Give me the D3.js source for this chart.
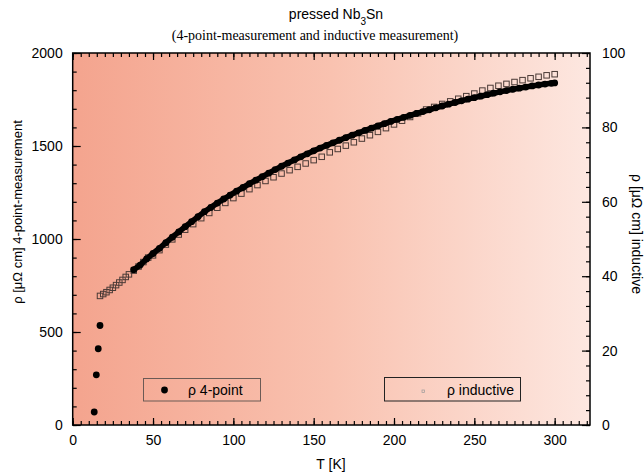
<!DOCTYPE html>
<html>
<head>
<meta charset="utf-8">
<script src="https://cdn.jsdelivr.net/npm/d3@7"></script>
<style>
  body { margin: 0; background: #fff; }
  svg { display: block; font-family: "Liberation Sans", Arial, sans-serif; }
</style>
</head>
<body>
<div id="chart"></div>
<script>
// 4-point measurement, left axis [µΩ cm]
const dropT   = [13.4, 14.7, 15.9, 17.0];
const dropRho = [70, 270, 410, 535];

const fourT = [38, 42, 46, 50, 54, 58, 62, 66, 70, 74, 78, 82, 86, 90, 94, 98, 102, 106, 110, 114,
  118, 122, 126, 130, 134, 138, 142, 146, 150, 154, 158, 162, 166, 170, 174, 178, 182, 186, 190, 194,
  198, 202, 206, 210, 214, 218, 222, 226, 230, 234, 238, 242, 246, 250, 254, 258, 262, 266, 270, 274,
  278, 282, 286, 290, 294, 298, 300];
const fourRho = [835, 860, 893, 922, 950, 980, 1010, 1038, 1066, 1093, 1120, 1147, 1170, 1193, 1215, 1236, 1257, 1277, 1297, 1316,
  1335, 1354, 1373, 1391, 1408, 1425, 1442, 1458, 1474, 1489, 1503, 1517, 1531, 1545, 1558, 1571, 1584, 1596, 1608, 1620,
  1632, 1643, 1654, 1665, 1675, 1685, 1695, 1705, 1715, 1725, 1734, 1743, 1752, 1760, 1768, 1776, 1784, 1791, 1798, 1805,
  1811, 1817, 1823, 1828, 1833, 1837, 1839];

// inductive measurement, right axis [µΩ cm]
const indT = [17, 19, 21, 23, 25, 27, 29, 31, 33, 35, 38, 41, 44, 47, 50, 54, 58, 62, 66, 70,
  75, 80, 85, 90, 95, 100, 105, 110, 115, 120, 125, 130, 135, 140, 145, 150, 155, 160, 165, 170,
  175, 180, 185, 190, 195, 200, 205, 210, 215, 220, 225, 230, 235, 240, 245, 250, 255, 260, 265, 270,
  275, 280, 285, 290, 295, 300];
const indRho = [34.7, 35.2, 35.7, 36.3, 36.9, 37.6, 38.3, 39.0, 39.8, 40.5, 41.5, 42.6, 43.8, 45.0, 45.6, 47.0, 48.5, 49.9, 51.2, 52.5,
  54.0, 55.6, 57.0, 58.4, 59.7, 61.0, 62.2, 63.4, 64.5, 65.6, 66.6, 67.6, 68.5, 69.4, 70.3, 71.2, 72.1, 73.3, 74.2, 75.1,
  76.0, 77.0, 77.9, 78.8, 79.8, 80.8, 81.8, 82.8, 83.8, 84.8, 85.5, 86.3, 87.0, 87.7, 88.4, 89.1, 89.9, 90.6, 91.2, 91.7,
  92.2, 92.7, 93.2, 93.6, 94.0, 94.3];

const xTicks = [0, 50, 100, 150, 200, 250, 300];
const yLeftTicks = [0, 500, 1000, 1500, 2000];
const yRightTicks = [0, 20, 40, 60, 80, 100];

const width = 644, height = 476;
const plot = { left: 72.7, right: 590, top: 53, bottom: 425 };

const svg = d3.select("#chart").append("svg")
    .attr("width", width)
    .attr("height", height);

const x = d3.scaleLinear().domain([0, 322]).range([plot.left, plot.right]);
const yL = d3.scaleLinear().domain([0, 2000]).range([plot.bottom, plot.top]);
const yR = d3.scaleLinear().domain([0, 100]).range([plot.bottom, plot.top]);

// background gradient
const grad = svg.append("defs").append("linearGradient")
    .attr("id", "bg").attr("x1", 0).attr("x2", 1).attr("y1", 0).attr("y2", 0);
grad.append("stop").attr("offset", "0%").attr("stop-color", "#f4a48e");
grad.append("stop").attr("offset", "50%").attr("stop-color", "#f9c2b0");
grad.append("stop").attr("offset", "100%").attr("stop-color", "#fde7e0");

svg.append("rect")
    .attr("x", plot.left).attr("y", plot.top)
    .attr("width", plot.right - plot.left).attr("height", plot.bottom - plot.top)
    .attr("fill", "url(#bg)");

// ticks: major and minor on all four sides, pointing inwards
function styleAxis(g) {
    g.select(".domain").remove();
    g.selectAll(".tick line").attr("stroke", "#000").attr("stroke-width", 1.2);
    g.selectAll("text").style("font-size", "14px").attr("fill", "#000")
        .style("font-family", "'Liberation Sans', Arial, sans-serif");
}

const minorX = d3.range(0, 321, 5);
const minorYL = d3.range(0, 2001, 100);
const minorYR = d3.range(0, 101, 4);
const fmt = d3.format("d");

svg.append("g").attr("transform", `translate(0,${plot.bottom})`)
    .call(d3.axisBottom(x).tickValues(minorX).tickSize(-4).tickFormat(""))
    .call(styleAxis);
svg.append("g").attr("transform", `translate(0,${plot.bottom})`)
    .call(d3.axisBottom(x).tickValues(xTicks).tickSize(-7).tickPadding(10).tickFormat(fmt))
    .call(styleAxis);
svg.append("g").attr("transform", `translate(0,${plot.top})`)
    .call(d3.axisTop(x).tickValues(minorX).tickSize(-4).tickFormat(""))
    .call(styleAxis);
svg.append("g").attr("transform", `translate(0,${plot.top})`)
    .call(d3.axisTop(x).tickValues(xTicks).tickSize(-7).tickFormat(""))
    .call(styleAxis);

svg.append("g").attr("transform", `translate(${plot.left},0)`)
    .call(d3.axisLeft(yL).tickValues(minorYL).tickSize(-4).tickFormat(""))
    .call(styleAxis);
svg.append("g").attr("transform", `translate(${plot.left},0)`)
    .call(d3.axisLeft(yL).tickValues(yLeftTicks).tickSize(-8).tickPadding(10).tickFormat(fmt))
    .call(styleAxis);

svg.append("g").attr("transform", `translate(${plot.right},0)`)
    .call(d3.axisRight(yR).tickValues(minorYR).tickSize(-4).tickFormat(""))
    .call(styleAxis);
svg.append("g").attr("transform", `translate(${plot.right},0)`)
    .call(d3.axisRight(yR).tickValues(yRightTicks).tickSize(-8).tickPadding(12).tickFormat(fmt))
    .call(styleAxis);

// frame
svg.append("rect")
    .attr("x", plot.left).attr("y", plot.top)
    .attr("width", plot.right - plot.left).attr("height", plot.bottom - plot.top)
    .attr("fill", "none").attr("stroke", "#000").attr("stroke-width", 1.5);

// inductive data: open squares
const sq = 5.5;
svg.append("g").selectAll("rect")
    .data(indT.map((t, i) => ({ t: t, v: indRho[i] })))
    .join("rect")
        .attr("x", (d) => x(d.t) - sq / 2)
        .attr("y", (d) => yR(d.v) - sq / 2)
        .attr("width", sq).attr("height", sq)
        .attr("fill", "none")
        .attr("stroke", "#4a3a36")
        .attr("stroke-width", 1);

// 4-point data: dense filled circles, drawn as a thick band plus the markers
const fourData = fourT.map((t, i) => ({ t: t, v: fourRho[i] }));
svg.append("path")
    .datum(fourData)
    .attr("d", d3.line().x((d) => x(d.t)).y((d) => yL(d.v)))
    .attr("fill", "none")
    .attr("stroke", "#000")
    .attr("stroke-width", 5.6)
    .attr("stroke-linecap", "round");

svg.append("g").selectAll("circle")
    .data(dropT.map((t, i) => ({ t: t, v: dropRho[i] })).concat(fourData))
    .join("circle")
        .attr("cx", (d) => x(d.t))
        .attr("cy", (d) => yL(d.v))
        .attr("r", 3.4)
        .attr("fill", "#000");

// legends
svg.append("rect")
    .attr("x", 143.5).attr("y", 378.5).attr("width", 117).attr("height", 22.5)
    .attr("fill", "none").attr("stroke", "#6b5a55").attr("stroke-width", 1);
svg.append("circle").attr("cx", 164.5).attr("cy", 390).attr("r", 3.4).attr("fill", "#000");
svg.append("text").attr("x", 188).attr("y", 395)
    .style("font-size", "14px").text("ρ  4-point");

svg.append("rect")
    .attr("x", 384.5).attr("y", 377.5).attr("width", 136).attr("height", 23.5)
    .attr("fill", "none").attr("stroke", "#222").attr("stroke-width", 1);
svg.append("rect").attr("x", 422).attr("y", 390).attr("width", 2.5).attr("height", 2.5)
    .attr("fill", "none").attr("stroke", "#999").attr("stroke-width", 0.7);
svg.append("text").attr("x", 447).attr("y", 395)
    .style("font-size", "14px").text("ρ inductive");

// titles
const title = svg.append("text").attr("x", 336).attr("y", 19)
    .attr("text-anchor", "middle").style("font-size", "14px");
title.append("tspan").text("pressed Nb");
title.append("tspan").attr("baseline-shift", "sub").style("font-size", "10px").text("3");
title.append("tspan").text("Sn");

svg.append("text").attr("x", 315).attr("y", 40)
    .attr("text-anchor", "middle")
    .style("font-family", "'Liberation Serif', 'Times New Roman', serif")
    .style("font-size", "14px")
    .text("(4-point-measurement and inductive measurement)");

svg.append("text").attr("x", 331).attr("y", 469)
    .attr("text-anchor", "middle").style("font-size", "14px").text("T [K]");

svg.append("text")
    .attr("transform", `translate(22,212) rotate(-90)`)
    .attr("text-anchor", "middle").style("font-size", "13px")
    .text("ρ [μΩ cm] 4-point-measurement");

svg.append("text")
    .attr("transform", `translate(632,234) rotate(90)`)
    .attr("text-anchor", "middle").style("font-size", "14px")
    .text("ρ [μΩ cm] inductive");
</script>
</body>
</html>
